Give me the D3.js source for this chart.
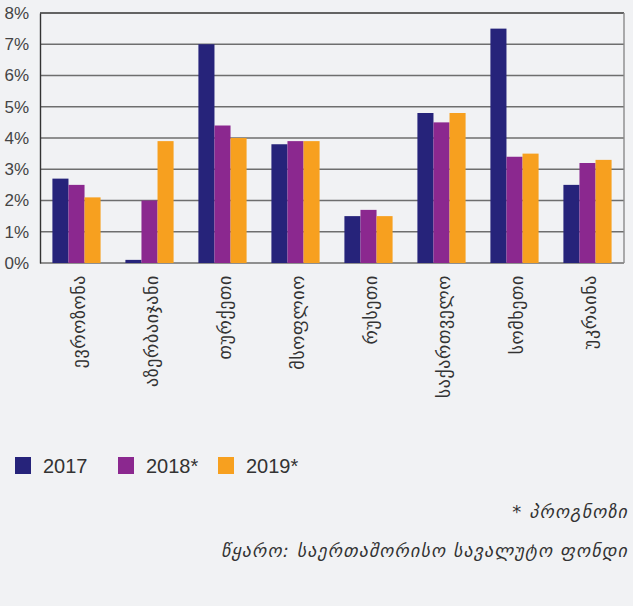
<!DOCTYPE html>
<html>
<head>
<meta charset="utf-8">
<script src="https://cdn.jsdelivr.net/npm/d3@7"></script>
<style>
  body { margin: 0; background: #f1f2f4; }
  svg { display: block; }
</style>
</head>
<body>
<svg id="drawing_region"></svg>
<script>
// data
const categories = ['ევროზონა', 'აზერბაიჯანი', 'თურქეთი', 'მსოფლიო', 'რუსეთი', 'საქართველო', 'სომხეთი', 'უკრაინა'];
const series = ['2017', '2018*', '2019*'];
const values2017 = [2.7, 0.1, 7.0, 3.8, 1.5, 4.8, 7.5, 2.5];
const values2018 = [2.5, 2.0, 4.4, 3.9, 1.7, 4.5, 3.4, 3.2];
const values2019 = [2.1, 3.9, 4.0, 3.9, 1.5, 4.8, 3.5, 3.3];
const yticks = [0, 1, 2, 3, 4, 5, 6, 7, 8];
const colors = ['#26237a', '#8b288f', '#f7a01f'];
const footnote = '* პროგნოზი';
const source = 'წყარო: საერთაშორისო სავალუტო ფონდი';

const allValues = [values2017, values2018, values2019];
const data = categories.map((c, i) => ({
    label: c,
    values: series.map((s, j) => ({ key: s, value: allValues[j][i] }))
}));

const config = {
    width: 633,
    height: 606,
    margin: {top: 13, right: 9, bottom: 343, left: 40}
};

const svg = d3.select('#drawing_region')
    .attr('width', config.width)
    .attr('height', config.height);

svg.append('rect')
    .attr('width', config.width)
    .attr('height', config.height)
    .attr('fill', '#f1f2f4');

const inner_width = config.width - config.margin.left - config.margin.right;
const inner_height = config.height - config.margin.top - config.margin.bottom;

const chart = svg.append('g')
    .attr('transform', `translate(${config.margin.left}, ${config.margin.top})`);

const xscale = d3.scaleBand()
    .domain(categories)
    .range([0, inner_width])
    .paddingInner(0.34)
    .paddingOuter(0.17);

const x1 = d3.scaleBand()
    .domain(series)
    .range([0, xscale.bandwidth()]);

const yscale = d3.scaleLinear()
    .domain([0, 8])
    .range([inner_height, 0]);

// horizontal grid lines
chart.append('g')
    .selectAll('line')
    .data(yticks)
    .join('line')
    .attr('x1', 0)
    .attr('x2', inner_width)
    .attr('y1', d => yscale(d))
    .attr('y2', d => yscale(d))
    .attr('stroke', d => d === 8 ? '#333' : '#6e6e6e')
    .attr('stroke-width', 1.4);

// right border
chart.append('line')
    .attr('x1', inner_width).attr('x2', inner_width)
    .attr('y1', 0).attr('y2', inner_height)
    .attr('stroke', '#8a8a8a')
    .attr('stroke-width', 1.4);

// bars
const groups = chart.append('g')
    .selectAll('g')
    .data(data)
    .join('g')
    .attr('transform', d => `translate(${xscale(d.label)}, 0)`);

groups.selectAll('rect')
    .data(d => d.values)
    .join('rect')
    .attr('x', d => x1(d.key))
    .attr('y', d => yscale(d.value))
    .attr('width', x1.bandwidth())
    .attr('height', d => inner_height - yscale(d.value))
    .attr('fill', (d, i) => colors[i]);

// y axis
const yaxis = d3.axisLeft(yscale)
    .tickValues(yticks)
    .tickFormat(d => d + '%')
    .tickSize(0)
    .tickPadding(11);

const yaxis_group = chart.append('g').call(yaxis);
yaxis_group.select('.domain')
    .attr('stroke', '#333')
    .attr('stroke-width', 1.4);
yaxis_group.selectAll('text')
    .attr('font-family', 'Liberation Sans, Arial, sans-serif')
    .attr('font-size', 17)
    .attr('fill', '#444');

// x axis labels
const xaxis = d3.axisBottom(xscale)
    .tickSize(0)
    .tickPadding(0);

const xaxis_group = chart.append('g')
    .attr('transform', `translate(0, ${inner_height})`)
    .call(xaxis);
xaxis_group.select('.domain').remove();
xaxis_group.selectAll('text')
    .attr('font-family', 'DejaVu Sans, sans-serif')
    .attr('font-size', 18)
    .attr('letter-spacing', 0.6)
    .attr('fill', '#333')
    .attr('text-anchor', 'end')
    .attr('dy', '0.35em')
    .attr('transform', 'translate(2, 12) rotate(-90)')
    .attr('y', 0)
    .attr('x', 0);

// legend
const legend = svg.append('g')
    .attr('transform', 'translate(15, 457)');

const legendX = [0, 103, 203];
const items = legend.selectAll('g')
    .data(series)
    .join('g')
    .attr('transform', (d, i) => `translate(${legendX[i]}, 0)`);

items.append('rect')
    .attr('width', 16)
    .attr('height', 17)
    .attr('fill', (d, i) => colors[i]);

items.append('text')
    .attr('x', 28)
    .attr('y', 16)
    .attr('font-family', 'Liberation Sans, Arial, sans-serif')
    .attr('font-size', 20)
    .attr('fill', '#333')
    .text(d => d);

// notes
svg.append('text')
    .attr('x', 628)
    .attr('y', 518)
    .attr('text-anchor', 'end')
    .attr('font-family', 'DejaVu Sans, sans-serif')
    .attr('font-style', 'italic')
    .attr('font-size', 18)
    .attr('letter-spacing', 1.1)
    .attr('fill', '#333')
    .text(footnote);

svg.append('text')
    .attr('x', 628)
    .attr('y', 557)
    .attr('text-anchor', 'end')
    .attr('font-family', 'DejaVu Sans, sans-serif')
    .attr('font-style', 'italic')
    .attr('font-size', 18)
    .attr('letter-spacing', 1.1)
    .attr('fill', '#333')
    .text(source);
</script>
</body>
</html>
